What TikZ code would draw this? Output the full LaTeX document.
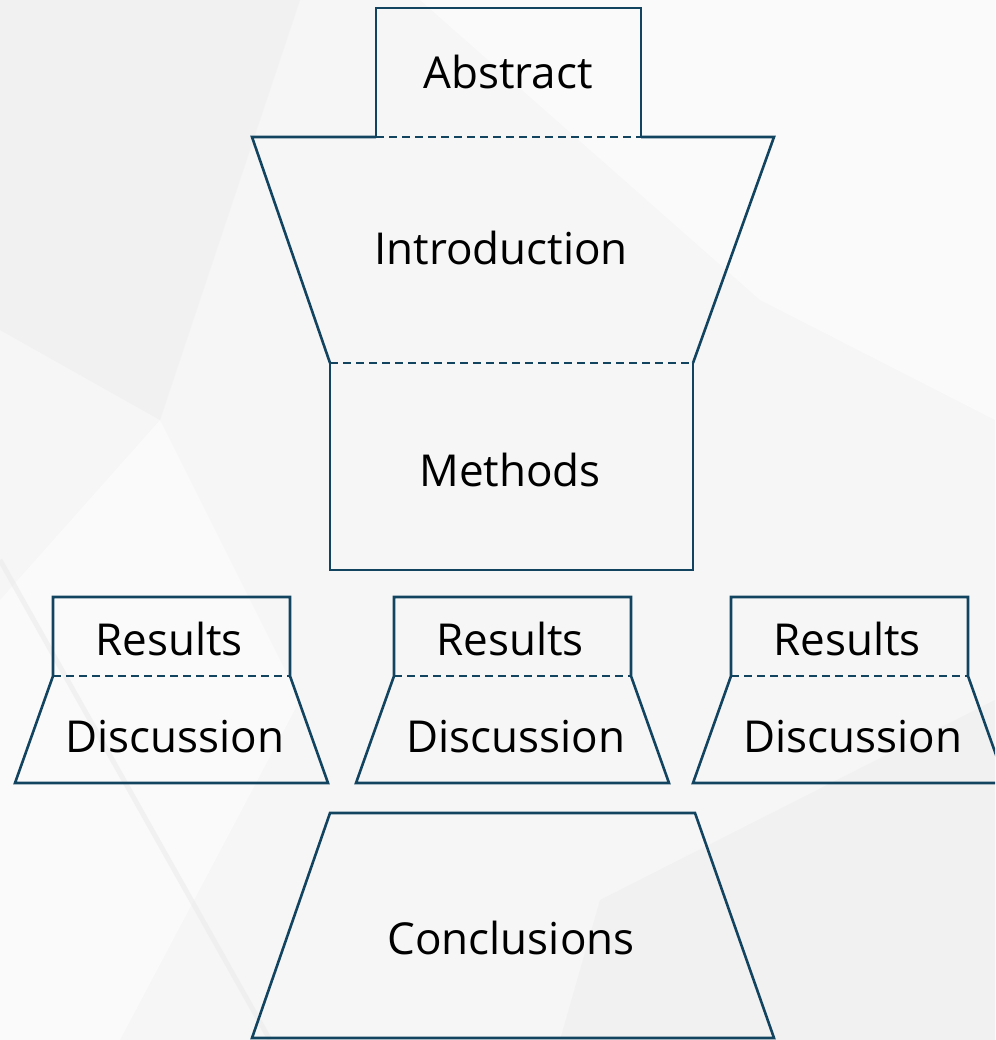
\documentclass[tikz,border=0pt]{standalone}
\usepackage{fontspec}
\setmainfont{Open Sans}
\definecolor{edge}{RGB}{18,68,96}
\definecolor{bg}{RGB}{246,246,246}
\definecolor{bglight}{RGB}{250,250,250}
\definecolor{bgdark}{RGB}{241,241,241}
\begin{document}
\begin{tikzpicture}[x=1pt,y=-1pt,
  outline/.style={draw=edge,line width=2.6pt,line join=miter},
  divider/.style={draw=edge,line width=2.6pt,dash pattern=on 8pt off 5pt},
  lbl/.style={font=\fontsize{44}{50}\selectfont,text=black,inner sep=0pt,anchor=base}]
\useasboundingbox (0,0) rectangle (995,1040);
\clip (0,0) rectangle (995,1040);
% background
\fill[bg] (0,0) rectangle (995,1040);
\fill[bglight] (420,0) -- (995,0) -- (995,420) -- (760,300) -- cycle;
\fill[bgdark] (0,0) -- (300,0) -- (160,420) -- (0,330) -- cycle;
\fill[bglight] (0,600) -- (160,420) -- (300,700) -- (120,1040) -- (0,1040) -- cycle;
\fill[bgdark] (600,900) -- (995,700) -- (995,1040) -- (560,1040) -- cycle;
\draw[bgdark!97!black,line width=5pt,opacity=0.5] (0,560) -- (270,1040);
% Abstract / Introduction / Methods
\draw[outline] (376,137) -- (376,8) -- (641,8) -- (641,137);
\draw[outline] (376,137) -- (252,137) -- (330,363);
\draw[outline] (641,137) -- (774,137) -- (693,363);
\draw[divider] (376,137) -- (641,137);
\draw[divider] (330,363) -- (693,363);
\draw[outline] (330,363) -- (330,570) -- (693,570) -- (693,363);
\node[lbl] (abstract) at (508,89) {Abstract};
\node[lbl] (intro) at (501,265) {Introduction};
\node[lbl] (methods) at (510,486) {Methods};
% Results / Discussion
\foreach \x/\n in {53/1,394/2,731/3} {
  \draw[outline] (\x,676) -- (\x,597) -- (\x+237,597) -- (\x+237,676) -- (\x+275,783) -- (\x-38,783) -- cycle;
  \draw[divider] (\x,676) -- (\x+237,676);
  \node[lbl] (res\n) at (\x+116,655) {Results};
  \node[lbl] (disc\n) at (\x+122,752) {Discussion};
}
% Conclusions
\draw[outline] (330,813) -- (695,813) -- (774,1038) -- (252,1038) -- cycle;
\node[lbl] (concl) at (511,954) {Conclusions};
\end{tikzpicture}
\end{document}
